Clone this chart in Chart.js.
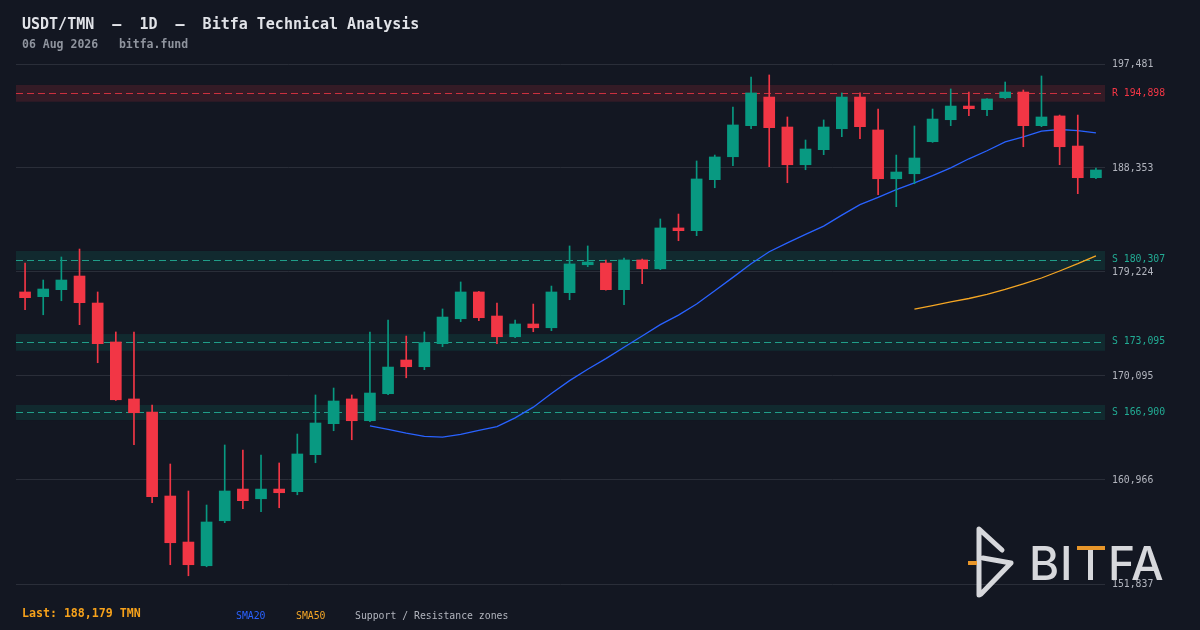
<!DOCTYPE html>
<html>
<head>
<meta charset="utf-8">
<title>USDT/TMN - 1D - Bitfa Technical Analysis</title>
<script src="https://cdn.jsdelivr.net/npm/chart.js@4.4.1/dist/chart.umd.min.js"></script>
<style>
  html, body { margin: 0; padding: 0; background: #131722; }
  #wrap { position: relative; width: 1200px; height: 630px; overflow: hidden; background: #131722; }
  #wrap canvas { position: absolute; left: 0; top: 0; }
  .txt { position: absolute; font-family: "DejaVu Sans Mono", monospace; white-space: pre; line-height: 1; }
  #title { left: 22px; top: 17px; font-size: 15px; font-weight: bold; color: #e1e3e8; }
  #sub { left: 22px; top: 39px; font-size: 11.5px; font-weight: bold; color: #8f949e; }
  #last { left: 22px; top: 608px; font-size: 11.6px; font-weight: bold; color: #f7a21b; }
  .leg { top: 611px; font-size: 9.8px; }
</style>
</head>
<body>
<div id="wrap">
  <canvas id="chart" width="1200" height="630"></canvas>
  <div class="txt" id="title">USDT/TMN  –  1D  –  Bitfa Technical Analysis</div>
  <div class="txt" id="sub">06 Aug 2026   bitfa.fund</div>
  <div class="txt" id="last">Last: 188,179 TMN</div>
  <div class="txt leg" style="left:236px;color:#2962ff">SMA20</div>
  <div class="txt leg" style="left:296px;color:#f5a623">SMA50</div>
  <div class="txt leg" style="left:355px;color:#b2b5be">Support / Resistance zones</div>
</div>
<script>
// daily candles, 08 Jun 2026 -> 06 Aug 2026
const days = [
  'Jun 08','Jun 09','Jun 10','Jun 11','Jun 12','Jun 13','Jun 14','Jun 15','Jun 16','Jun 17',
  'Jun 18','Jun 19','Jun 20','Jun 21','Jun 22','Jun 23','Jun 24','Jun 25','Jun 26','Jun 27',
  'Jun 28','Jun 29','Jun 30','Jul 01','Jul 02','Jul 03','Jul 04','Jul 05','Jul 06','Jul 07',
  'Jul 08','Jul 09','Jul 10','Jul 11','Jul 12','Jul 13','Jul 14','Jul 15','Jul 16','Jul 17',
  'Jul 18','Jul 19','Jul 20','Jul 21','Jul 22','Jul 23','Jul 24','Jul 25','Jul 26','Jul 27',
  'Jul 28','Jul 29','Jul 30','Jul 31','Aug 01','Aug 02','Aug 03','Aug 04','Aug 05','Aug 06'
];

const opens = [
  177470,177060,177670,178870,176500,173080,168080,166930,159560,155520,
  153440,157390,160170,159320,160170,159940,163190,165910,168080,166170,
  168540,171500,170910,172930,175120,177470,175360,173540,174660,174330,
  177410,179860,180010,177670,180280,179510,183090,182850,187330,189340,
  192070,194580,191950,188640,189960,191800,194580,191690,187410,187850,
  190660,192590,193790,193470,194520,195020,192070,192920,190280,187500
];
const highs = [
  180010,178520,180540,181240,177470,173960,173960,167550,162370,160000,
  158770,164040,163600,163160,162460,165000,168430,169040,168430,173960,
  175010,173600,173960,175980,178350,177520,176500,175010,176410,177990,
  181510,181510,180280,180450,180360,183880,184310,188970,189490,193710,
  196340,196520,192830,190810,192570,194940,194940,193530,189490,192040,
  193530,195290,195020,194450,195900,195200,196430,193000,193000,188350
];
const lows = [
  175910,175470,176700,174600,171260,167950,164060,158970,153530,152560,
  153350,157220,158450,158180,158530,159670,162480,165290,164500,166080,
  168450,169940,170650,172670,174860,174950,172930,173460,173980,174070,
  176790,179690,177620,176350,178200,179430,181970,182410,186620,188550,
  191800,188470,187060,188200,189520,191100,190920,186010,184960,186970,
  190600,192070,192940,192940,194440,190220,191980,188640,186100,187410
];
const closes = [
  176970,177730,178520,176530,172930,168010,166870,159500,155460,153530,
  157280,160000,159150,160170,159850,163250,165970,167900,166170,168600,
  170880,170910,173020,175270,177470,175210,173540,174660,174330,177470,
  179930,180100,177670,180280,179510,183090,182850,187390,189320,192130,
  194940,191890,188640,190020,191950,194580,191980,187410,188000,189230,
  192650,193790,193560,194410,195020,192070,192830,190220,187500,188179
];

// moving averages, first value sits on candle 20 / candle 50
const sma20 = [
  165720,165415,165074,164799,164736,164963,165323,165657,166415,167358,
  168555,169688,170693,171619,172624,173607,174599,175443,176418,177575,
  178752,179955,181004,181785,182522,183246,184215,185137,185774,186458,
  187046,187682,188366,189161,189867,190643,191092,191591,191732,191641,191443
];
const sma50 = [175961,176275,176596,176897,177254,177696,178177,178697,179311,179952,180645];

// price axis
const priceTicks = [151837,160966,170095,179224,188353,197481];

// support / resistance zones
const zoneLevels = [194898,180307,173095,166900];
const zoneKinds  = ['R','S','S','S'];
const zoneLow    = [194170,179400,172310,166230];
const zoneHigh   = [195640,181070,173780,167550];

const UP = '#089981';
const DOWN = '#f23645';
const ZONE_LINE = { R: '#f23645', S: '#22ab94' };
const ZONE_FILL = { R: 'rgba(242,54,69,0.15)', S: 'rgba(8,153,129,0.15)' };

const fmt = v => Math.round(v).toLocaleString('en-US');
const candleColors = closes.map((c, i) => c >= opens[i] ? UP : DOWN);
const zoneIndex = v => zoneLevels.indexOf(v);

// zones: band + dashed line behind the candles
const zonePlugin = {
  id: 'zones',
  beforeDatasetsDraw(chart) {
    const { ctx, chartArea: a, scales: { y } } = chart;
    ctx.save();
    zoneLevels.forEach((lvl, i) => {
      const k = zoneKinds[i];
      const top = y.getPixelForValue(zoneHigh[i]);
      const bot = y.getPixelForValue(zoneLow[i]);
      ctx.fillStyle = ZONE_FILL[k];
      ctx.fillRect(a.left, top, a.right - a.left, bot - top);
      const ly = Math.round(y.getPixelForValue(lvl)) + 0.5;
      ctx.strokeStyle = ZONE_LINE[k];
      ctx.globalAlpha = k === 'R' ? 0.8 : 0.9;
      ctx.lineWidth = 1;
      ctx.setLineDash([7, 4]);
      ctx.beginPath();
      ctx.moveTo(a.left, ly);
      ctx.lineTo(a.right, ly);
      ctx.stroke();
      ctx.globalAlpha = 1;
    });
    ctx.restore();
  }
};

// Bitfa watermark, bottom right
const logoPlugin = {
  id: 'logo',
  afterDraw(chart) {
    const ctx = chart.ctx;
    ctx.save();
    ctx.strokeStyle = '#d7d8dc';
    ctx.lineWidth = 5;
    ctx.lineCap = 'round';
    ctx.lineJoin = 'round';
    ctx.beginPath();
    ctx.moveTo(979, 595);
    ctx.lineTo(979, 529);
    ctx.lineTo(1002, 550);
    ctx.moveTo(983, 558);
    ctx.lineTo(1011, 563);
    ctx.lineTo(981, 594);
    ctx.stroke();
    ctx.strokeStyle = '#e8962a';
    ctx.lineWidth = 4;
    ctx.lineCap = 'butt';
    ctx.beginPath();
    ctx.moveTo(968, 563);
    ctx.lineTo(977, 563);
    ctx.stroke();

    ctx.fillStyle = '#d7d8dc';
    ctx.font = '500 46px Inter, "Open Sans", sans-serif';
    ctx.textBaseline = 'alphabetic';
    ctx.fillText('B', 1029, 580);
    ctx.fillText('I', 1060, 580);
    ctx.fillRect(1088, 550, 5, 30);
    ctx.fillText('F', 1108, 580);
    ctx.fillText('A', 1131, 580);
    ctx.fillStyle = '#e8962a';
    ctx.fillRect(1077, 546, 28, 4);
    ctx.restore();
  }
};

const bgPlugin = {
  id: 'bg',
  beforeDraw(chart) {
    const ctx = chart.ctx;
    ctx.save();
    ctx.fillStyle = '#131722';
    ctx.fillRect(0, 0, chart.width, chart.height);
    ctx.restore();
  }
};

new Chart(document.getElementById('chart'), {
  type: 'bar',
  data: {
    labels: days,
    datasets: [
      {
        label: 'body',
        data: opens.map((o, i) => [o, closes[i]]),
        backgroundColor: candleColors,
        borderWidth: 0,
        borderSkipped: false,
        barThickness: 11,
        minBarLength: 1,
        grouped: false,
        order: 0
      },
      {
        label: 'wick',
        data: lows.map((l, i) => [l, highs[i]]),
        backgroundColor: candleColors,
        borderWidth: 0,
        borderSkipped: false,
        barThickness: 1,
        grouped: false,
        order: 1
      },
      {
        type: 'line',
        label: 'SMA20',
        data: Array(days.length - sma20.length).fill(null).concat(sma20),
        borderColor: '#2962ff',
        borderWidth: 1.3,
        pointRadius: 0,
        tension: 0,
        order: 2
      },
      {
        type: 'line',
        label: 'SMA50',
        data: Array(days.length - sma50.length).fill(null).concat(sma50),
        borderColor: '#f5a623',
        borderWidth: 1.3,
        pointRadius: 0,
        tension: 0,
        order: 3
      }
    ]
  },
  options: {
    responsive: false,
    animation: false,
    events: [],
    layout: { padding: { left: 16, top: 64, bottom: 46, right: 0 } },
    plugins: {
      legend: { display: false },
      tooltip: { enabled: false },
      title: { display: false }
    },
    scales: {
      x: {
        type: 'category',
        display: false,
        offset: true
      },
      y: {
        position: 'right',
        min: priceTicks[0],
        max: priceTicks[priceTicks.length - 1],
        afterBuildTicks(scale) {
          scale.ticks = priceTicks.concat(zoneLevels)
            .sort((a, b) => a - b)
            .map(v => ({ value: v }));
        },
        afterFit(scale) { scale.width = 95; },
        border: { display: false },
        grid: {
          drawTicks: false,
          lineWidth: 1,
          color: ctx => zoneIndex(ctx.tick && ctx.tick.value) >= 0 ? 'rgba(0,0,0,0)' : '#2a2e39'
        },
        ticks: {
          autoSkip: false,
          padding: 7,
          font: { family: '"DejaVu Sans Mono", monospace', size: 9.8 },
          color: ctx => {
            const i = zoneIndex(ctx.tick && ctx.tick.value);
            return i >= 0 ? ZONE_LINE[zoneKinds[i]] : '#b2b5be';
          },
          callback(v) {
            const i = zoneIndex(v);
            return i >= 0 ? zoneKinds[i] + ' ' + fmt(v) : fmt(v);
          }
        }
      }
    }
  },
  plugins: [bgPlugin, zonePlugin, logoPlugin]
});
</script>
</body>
</html>
